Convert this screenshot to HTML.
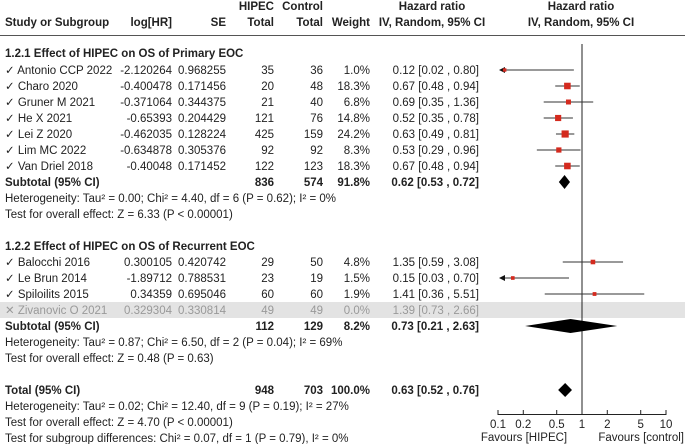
<!DOCTYPE html>
<html><head><meta charset="utf-8">
<style>
body{margin:0;background:#fff;}
svg{display:block;font-family:"Liberation Sans",Arial,sans-serif;font-size:11.5px;}
.b{font-weight:bold;}
</style></head>
<body>
<svg id="c" width="685" height="444" viewBox="0 0 685 444" xmlns="http://www.w3.org/2000/svg"></svg>
<script>
const studies1 = ["Antonio CCP 2022","Charo 2020","Gruner M 2021","He X 2021","Lei Z 2020","Lim MC 2022","Van Driel 2018"];
const logHR1 = ["-2.120264","-0.400478","-0.371064","-0.65393","-0.462035","-0.634878","-0.40048"];
const se1 = ["0.968255","0.171456","0.344375","0.204429","0.128224","0.305376","0.171452"];
const hipec1 = [35,20,21,121,425,92,122];
const control1 = [36,48,40,76,159,92,123];
const weight1 = [1.0,18.3,6.8,14.8,24.2,8.3,18.3];
const hr1 = [0.12,0.67,0.69,0.52,0.63,0.53,0.67];
const lo1 = [0.02,0.48,0.35,0.35,0.49,0.29,0.48];
const hi1 = [0.80,0.94,1.36,0.78,0.81,0.96,0.94];
const studies2 = ["Balocchi 2016","Le Brun 2014","Spiloilits 2015","Zivanovic O 2021"];
const logHR2 = ["0.300105","-1.89712","0.34359","0.329304"];
const se2 = ["0.420742","0.788531","0.695046","0.330814"];
const hipec2 = [29,23,60,49];
const control2 = [50,19,60,49];
const weight2 = [4.8,1.5,1.9,0.0];
const hr2 = [1.35,0.15,1.41,1.39];
const lo2 = [0.59,0.03,0.36,0.73];
const hi2 = [3.08,0.70,5.51,2.66];
const excluded2 = [false,false,false,true];
const subtotalHR = [0.62,0.73];
const subtotalLo = [0.53,0.21];
const subtotalHi = [0.72,2.63];
const totalHR = [0.63];
const totalLo = [0.52];
const totalHi = [0.76];
const ticks = [0.1,0.2,0.5,1,2,5,10];

const svg = document.getElementById('c');
const NS = 'http://www.w3.org/2000/svg';
function mk(tag, attrs, text){
  const e = document.createElementNS(NS, tag);
  for (const k in attrs) e.setAttribute(k, attrs[k]);
  if (text !== undefined) e.textContent = text;
  svg.appendChild(e);
  return e;
}
const X0 = 582, XS = 84;
const xScale = v => X0 + XS * Math.log10(v);
const XMIN = 500, XMAX = 684;
function txt(x, y, s, anchor, cls, fill, name){
  const e = mk('text', {x:x, y:y, 'text-anchor':anchor||'start', fill:fill||'#222'}, s);
  if (cls) e.setAttribute('class', cls);
  
  
  return e;
}
// headers
txt(274,10,'HIPEC','end','b',null,'hipec-header');
txt(323,10,'Control','end','b',null,'control-header');
txt(432,10,'Hazard ratio','middle','b',null,'hr-header');
txt(581,10,'Hazard ratio','middle','b',null,'plot-header');
txt(5,26,'Study or Subgroup','start','b',null,'study-header');
txt(172,26,'log[HR]','end','b',null,'loghr-header');
txt(226,26,'SE','end','b',null,'se-header');
txt(274,26,'Total','end','b',null,'hipec-total-header');
txt(323,26,'Total','end','b',null,'control-total-header');
txt(370,26,'Weight','end','b',null,'weight-header');
txt(432,26,'IV, Random, 95% CI','middle','b',null,'ci-header');
txt(581,26,'IV, Random, 95% CI','middle','b',null,'plot-ci-header');
const hl = mk('line',{x1:0,y1:35.5,x2:685,y2:35.5,stroke:'#555','stroke-width':1});



// grey band for excluded
const band = mk('rect',{x:0,y:302,width:685,height:16,fill:'#e3e3e3'});



// vertical line of no effect
const vl = mk('line',{x1:X0,y1:44,x2:X0,y2:414,stroke:'#222','stroke-width':1});



function fmt(v){return v.toFixed(2);}
function studyRow(y, name, lh, se, h, c, w, hr, lo, hi, excl){
  const col = excl ? '#999' : '#222';
  txt(5, y, (excl?'\u2715 ':'\u2713 ') + name, 'start', null, col, 'study-name');
  txt(172, y, lh, 'end', null, col, 'loghr-value');
  txt(226, y, se, 'end', null, col, 'se-value');
  txt(274, y, String(h), 'end', null, col, 'hipec-total');
  txt(323, y, String(c), 'end', null, col, 'control-total');
  txt(370, y, w.toFixed(1)+'%', 'end', null, col, 'weight-value');
  txt(479, y, fmt(hr)+' ['+fmt(lo)+' , '+fmt(hi)+']', 'end', null, col, 'ci-text');
  if (excl) return;
  const cy = y - 4;
  let x1 = xScale(lo), x2 = xScale(hi);
  const clipL = x1 < XMIN; if (clipL) x1 = XMIN;
  const clipR = x2 > XMAX; if (clipR) x2 = XMAX;
  const ln = mk('line',{x1:x1,y1:cy,x2:x2,y2:cy,stroke:'#333','stroke-width':1});
  
  
  if (clipL){
    const a = mk('polygon',{points:`${XMIN-1},${cy} ${XMIN+5},${cy-3} ${XMIN+5},${cy+3}`,fill:'#111'});
    
    
  }
  const s = 2.5 + Math.sqrt(w) * 0.95;
  const cx = xScale(hr);
  const r = mk('rect',{x:cx-s/2,y:cy-s/2,width:s,height:s,fill:'#d42a1e'});
  
  
}
function diamond(y, hr, lo, hi, name){
  const cy = y - 4;
  const d = mk('polygon',{points:`${xScale(lo)},${cy} ${xScale(hr)},${cy-7} ${xScale(hi)},${cy} ${xScale(hr)},${cy+7}`,fill:'#000'});
  
  
}

// Subgroup 1
txt(5,57,'1.2.1 Effect of HIPEC on OS of Primary EOC','start','b',null,'subgroup1-title');
for (let i=0;i<studies1.length;i++){
  studyRow(74+16*i, studies1[i], logHR1[i], se1[i], hipec1[i], control1[i], weight1[i], hr1[i], lo1[i], hi1[i], false);
}
txt(5,186,'Subtotal (95% CI)','start','b',null,'subtotal1-label');
txt(274,186,'836','end','b',null,'subtotal1-hipec');
txt(323,186,'574','end','b',null,'subtotal1-control');
txt(370,186,'91.8%','end','b',null,'subtotal1-weight');
txt(479,186,fmt(subtotalHR[0])+' ['+fmt(subtotalLo[0])+' , '+fmt(subtotalHi[0])+']','end','b',null,'subtotal1-ci');
diamond(186, subtotalHR[0], subtotalLo[0], subtotalHi[0], 'subtotal1-diamond');
txt(5,202,'Heterogeneity: Tau\u00b2 = 0.00; Chi\u00b2 = 4.40, df = 6 (P = 0.62); I\u00b2 = 0%','start',null,null,'heterogeneity1');
txt(5,218,'Test for overall effect: Z = 6.33 (P < 0.00001)','start',null,null,'overall-effect1');

// Subgroup 2
txt(5,250,'1.2.2 Effect of HIPEC on OS of Recurrent EOC','start','b',null,'subgroup2-title');
for (let i=0;i<studies2.length;i++){
  studyRow(266+16*i, studies2[i], logHR2[i], se2[i], hipec2[i], control2[i], weight2[i], hr2[i], lo2[i], hi2[i], excluded2[i]);
}
txt(5,330,'Subtotal (95% CI)','start','b',null,'subtotal2-label');
txt(274,330,'112','end','b',null,'subtotal2-hipec');
txt(323,330,'129','end','b',null,'subtotal2-control');
txt(370,330,'8.2%','end','b',null,'subtotal2-weight');
txt(479,330,fmt(subtotalHR[1])+' ['+fmt(subtotalLo[1])+' , '+fmt(subtotalHi[1])+']','end','b',null,'subtotal2-ci');
diamond(330, subtotalHR[1], subtotalLo[1], subtotalHi[1], 'subtotal2-diamond');
txt(5,346,'Heterogeneity: Tau\u00b2 = 0.87; Chi\u00b2 = 6.50, df = 2 (P = 0.04); I\u00b2 = 69%','start',null,null,'heterogeneity2');
txt(5,362,'Test for overall effect: Z = 0.48 (P = 0.63)','start',null,null,'overall-effect2');

// Total
txt(5,394,'Total (95% CI)','start','b',null,'total-label');
txt(274,394,'948','end','b',null,'total-hipec');
txt(323,394,'703','end','b',null,'total-control');
txt(370,394,'100.0%','end','b',null,'total-weight');
txt(479,394,fmt(totalHR[0])+' ['+fmt(totalLo[0])+' , '+fmt(totalHi[0])+']','end','b',null,'total-ci');
diamond(394, totalHR[0], totalLo[0], totalHi[0], 'total-diamond');
txt(5,410,'Heterogeneity: Tau\u00b2 = 0.02; Chi\u00b2 = 12.40, df = 9 (P = 0.19); I\u00b2 = 27%','start',null,null,'heterogeneity-total');
txt(5,426,'Test for overall effect: Z = 4.70 (P < 0.00001)','start',null,null,'overall-effect-total');
txt(5,442,'Test for subgroup differences: Chi\u00b2 = 0.07, df = 1 (P = 0.79), I\u00b2 = 0%','start',null,null,'subgroup-differences');

// axis
const ax = mk('line',{x1:xScale(ticks[0]),y1:414.5,x2:xScale(ticks[ticks.length-1]),y2:414.5,stroke:'#222','stroke-width':1});


for (const t of ticks){
  const tk = mk('line',{x1:xScale(t),y1:410,x2:xScale(t),y2:415,stroke:'#222','stroke-width':1});
  
  
  txt(xScale(t), 428, String(t), 'middle', null, null, 'x-tick-label');
}
txt(524,441,'Favours [HIPEC]','middle',null,null,'favours-hipec');
txt(684,441,'Favours [control]','end',null,null,'favours-control');
</script>
</body></html>
